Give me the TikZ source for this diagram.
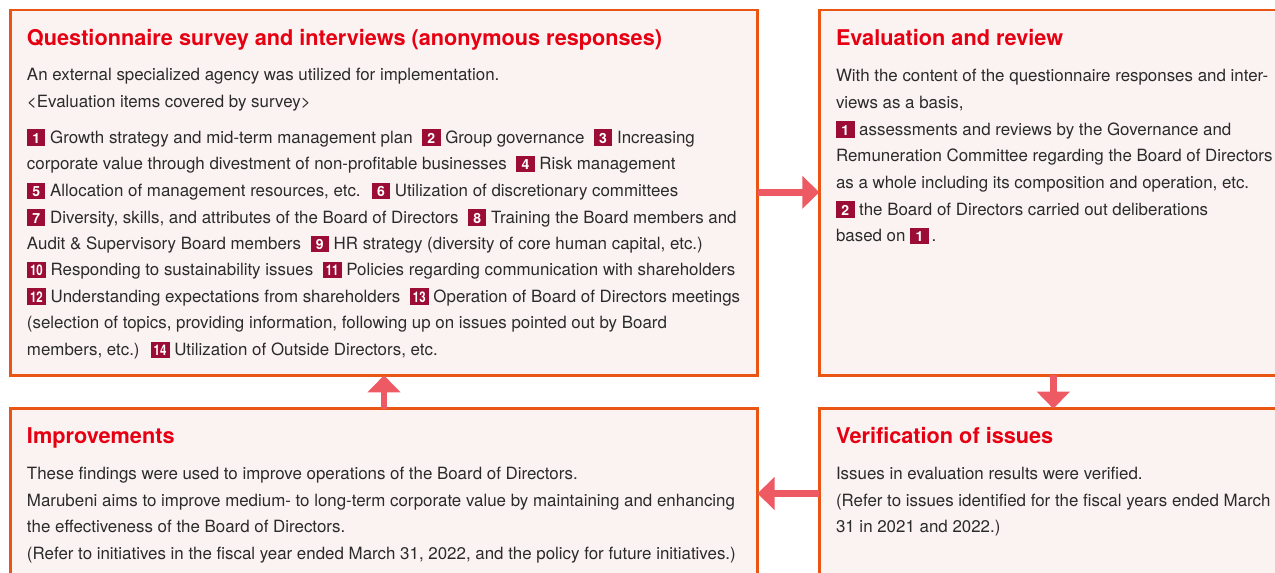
\documentclass[tikz,border=0pt]{standalone}
\usepackage{fontspec}
\usepackage{graphicx}
\setmainfont{TeX Gyre Heros}
\usetikzlibrary{arrows.meta}
\definecolor{boxfill}{HTML}{FBF3F2}
\definecolor{boxline}{HTML}{EA5514}
\definecolor{arrowc}{HTML}{EE5A64}
\definecolor{titlered}{HTML}{E60012}
\definecolor{badge}{HTML}{9B0D35}
\definecolor{ink}{HTML}{2B2B2B}
\newcommand\bodyfont{\fontsize{16.9}{20}\selectfont}
\newcommand\headfont{\fontsize{21.7}{25}\selectfont\bfseries}
\newcommand\bdg[2][18.5pt]{\rlap{\raisebox{-2.7pt}{\textcolor{badge}{\rule{#1}{16.4pt}}}}\makebox[#1][c]{\textcolor{white}{\fontsize{14}{14}\selectfont\bfseries #2}}}
\newcommand\bdd[1]{\bdg[19pt]{\scalebox{0.82}[1.05]{#1}}}
\begin{document}
\begin{tikzpicture}[x=1pt,y=-1pt,
  box/.style={draw=boxline, fill=boxfill, line width=2.5pt, anchor=north west, inner sep=0pt, outer sep=0pt},
  txt/.style={anchor=base west, inner sep=0pt, outer sep=0pt, font=\bodyfont, text=ink},
  head/.style={anchor=base west, inner sep=0pt, outer sep=0pt, font=\headfont, text=titlered},
  arr/.style={draw=arrowc, line width=6.5pt, -{Triangle[width=32pt,length=17pt]}}]
\useasboundingbox (0,0) rectangle (1275,573);
\clip (0,0) rectangle (1275,573);
\fill[white] (0,0) rectangle (1275,573);
% boxes
\node[box, minimum width=746.8pt, minimum height=365.3pt] (A) at (10.7,10) {};
\node[box, minimum width=480pt, minimum height=365.3pt] (B) at (819.3,10) {};
\node[box, minimum width=746.8pt, minimum height=200pt] (C) at (10.7,408.7) {};
\node[box, minimum width=480pt, minimum height=200pt] (D) at (819.3,408.7) {};
% arrows
\coordinate (rAB) at (788,192.3);
\coordinate (rBD) at (1053.3,392);
\coordinate (rDC) at (788,493.5);
\coordinate (rCA) at (384,392);
\draw[arr] (A.east |- rAB) -- (B.west |- rAB);
\draw[arr] (B.south -| rBD) -- (D.north -| rBD);
\draw[arr] (D.west |- rDC) -- (C.east |- rDC);
\draw[arr] (C.north -| rCA) -- (A.south -| rCA);
% box A
\node[head] (ah) at (27,45) {Questionnaire survey and interviews (anonymous responses)};
\node[txt] (a1) at (27,80) {An external specialized agency was utilized for implementation.};
\node[txt] (a2) at (27,107) {<Evaluation items covered by survey>};
\node[txt] (a3) at (27,143) {\bdg{1} Growth strategy and mid-term management plan~ \bdg{2} Group governance~ \bdg{3} Increasing};
\node[txt] (a4) at (27,169.7) {corporate value through divestment of non-profitable businesses~ \bdg{4} Risk management};
\node[txt] (a5) at (27,196.3) {\bdg{5} Allocation of management resources, etc.~ \bdg{6} Utilization of discretionary committees};
\node[txt] (a6) at (27,223) {\bdg{7} Diversity, skills, and attributes of the Board of Directors~ \bdg{8} Training the Board members and};
\node[txt] (a7) at (27,249.7) {Audit \& Supervisory Board members~ \bdg{9} HR strategy (diversity of core human capital, etc.)};
\node[txt] (a8) at (27,275.3) {\bdd{10} Responding to sustainability issues~ \bdd{11} Policies regarding communication with shareholders};
\node[txt] (a9) at (27,302) {\bdd{12} Understanding expectations from shareholders~ \bdd{13} Operation of Board of Directors meetings};
\node[txt] (a10) at (27,328.5) {(selection of topics, providing information, following up on issues pointed out by Board};
\node[txt] (a11) at (27,355.2) {members, etc.)~ \bdd{14} Utilization of Outside Directors, etc.};
% box B
\node[head] (bh) at (836,45) {Evaluation and review};
\node[txt] (b1) at (836,81) {With the content of the questionnaire responses and inter-};
\node[txt] (b2) at (836,108) {views as a basis,};
\node[txt] (b3) at (836,135) {\bdg{1} assessments and reviews by the Governance and};
\node[txt] (b4) at (836,161.5) {Remuneration Committee regarding the Board of Directors};
\node[txt] (b5) at (836,188) {as a whole including its composition and operation, etc.};
\node[txt] (b6) at (836,215) {\bdg{2} the Board of Directors carried out deliberations};
\node[txt] (b7) at (836,241.7) {based on \bdg{1}\,.};
% box C
\node[head] (ch) at (27,443.5) {Improvements};
\node[txt] (c1) at (27,479) {These findings were used to improve operations of the Board of Directors.};
\node[txt] (c2) at (27,506) {Marubeni aims to improve medium- to long-term corporate value by maintaining and enhancing};
\node[txt] (c3) at (27,532.7) {the effectiveness of the Board of Directors.};
\node[txt] (c4) at (27,559.3) {(Refer to initiatives in the fiscal year ended March 31, 2022, and the policy for future initiatives.)};
% box D
\node[head] (dh) at (836,443.5) {Verification of issues};
\node[txt] (d1) at (836,479) {Issues in evaluation results were verified.};
\node[txt] (d2) at (836,506) {(Refer to issues identified for the fiscal years ended March};
\node[txt] (d3) at (836,532.7) {31 in 2021 and 2022.)};
\end{tikzpicture}
\end{document}
